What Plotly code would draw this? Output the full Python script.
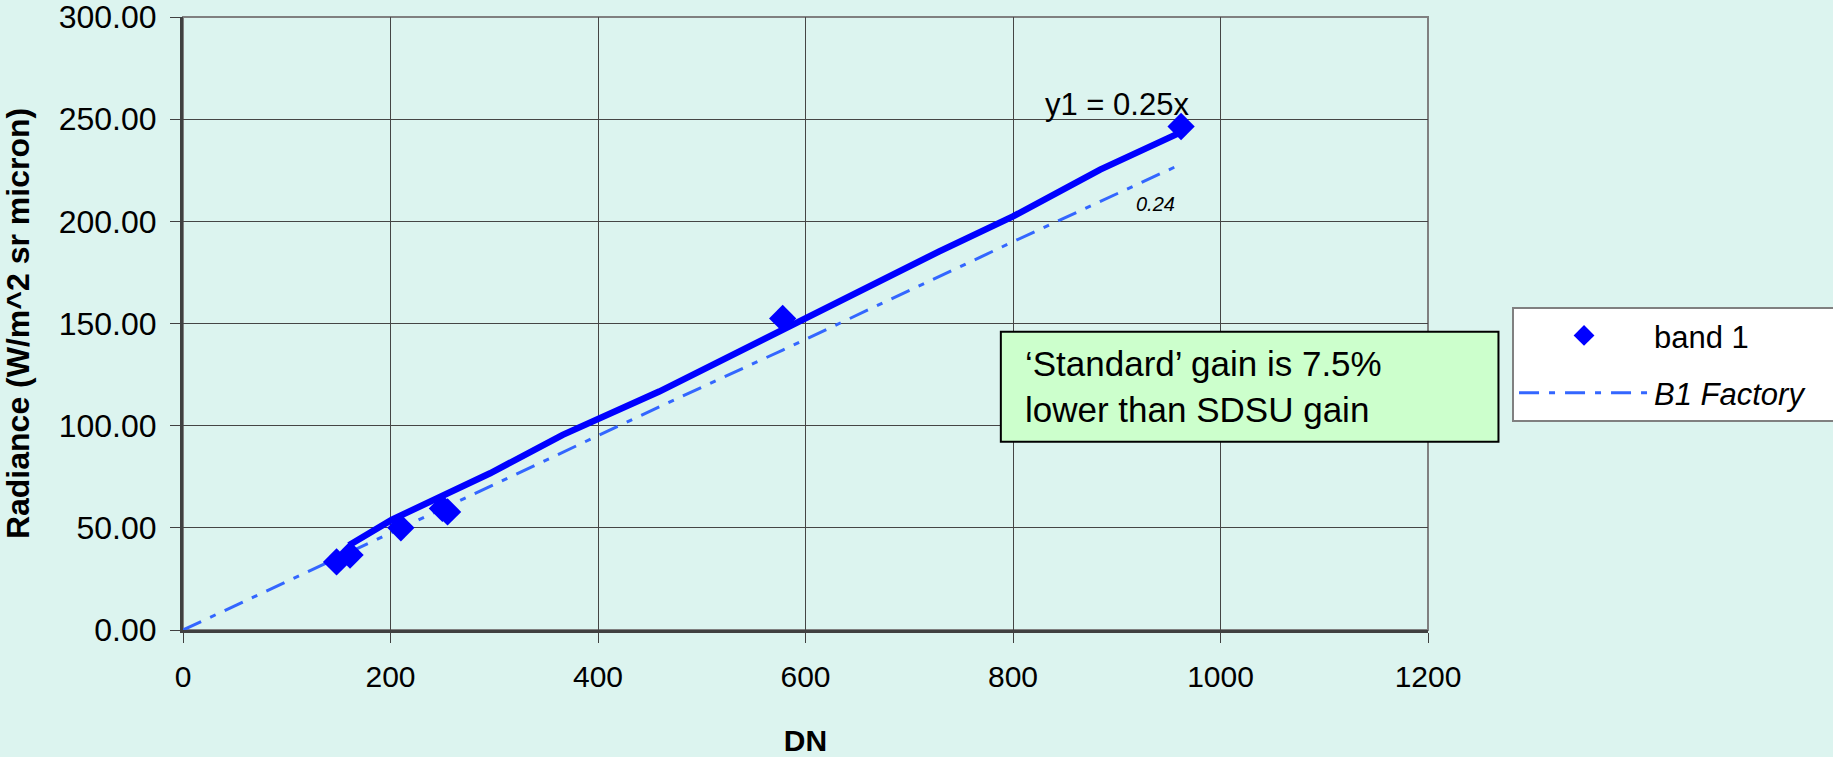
import plotly.graph_objects as go

# ---- data ----
band1_dn = [148, 161, 210, 250, 255, 578, 962]
band1_rad = [33.3, 36.7, 50.0, 59.5, 57.8, 152.5, 246.4]

fit_dn = [160, 201, 296, 366, 459, 594, 668, 729, 800, 884, 961]
fit_rad = [41.5, 53.9, 76.7, 95.5, 116.7, 151.0, 169.0, 185.3, 202.4, 225.3, 243.4]

factory_dn = [0, 150, 300, 459, 578, 800, 962]
factory_rad = [0.0, 35.5, 71.2, 109.2, 137.0, 190.0, 228.0]

x_ticks = [0, 200, 400, 600, 800, 1000, 1200]
y_ticks = [0, 50, 100, 150, 200, 250, 300]

FONT = "Liberation Sans, Arial, sans-serif"
BG = "#DCF4EF"

fig = go.Figure()

fig.add_trace(go.Scatter(
    x=factory_dn, y=factory_rad, mode="lines", name="<i>B1 Factory</i>\u00a0\u00a0\u00a0",
    line=dict(color="#3366FF", width=3, dash="20px,10px,6px,10px"),
    legendgroup="f", legendrank=2,
))
fig.add_trace(go.Scatter(
    x=fit_dn, y=fit_rad, mode="lines", name="y1 = 0.25x",
    line=dict(color="#0000FF", width=6.5), showlegend=False,
))
fig.add_trace(go.Scatter(
    x=band1_dn, y=band1_rad, mode="markers", name="band 1",
    marker=dict(symbol="diamond", size=21, color="#0000FF"),
    legendgroup="b", legendrank=1,
))

axis_common = dict(
    showgrid=True, gridcolor="#454545", gridwidth=1,
    showline=True, linecolor="#404040", linewidth=3,
    ticks="outside", ticklen=10, tickcolor="#404040", tickwidth=1,
    zeroline=False, ticklabeloverflow="allow",
)

fig.update_xaxes(
    range=[0, 1200], tickvals=x_ticks, ticklabelstandoff=8,
    tickfont=dict(family=FONT, size=30, color="black"),
    title=dict(text="<b>DN</b>", font=dict(family=FONT, size=30, color="black"), standoff=44),
    **axis_common,
)
fig.update_yaxes(
    range=[0, 300], tickvals=y_ticks, tickformat=".2f", ticklabelstandoff=7,
    tickfont=dict(family=FONT, size=32, color="black"),
    title=dict(text="<b>Radiance (W/m^2 sr micron)</b>", font=dict(family=FONT, size=32, color="black"), standoff=24),
    **axis_common,
)

# plot-area border (top/right)
fig.add_shape(type="rect", xref="paper", yref="paper", x0=0, x1=1, y0=0, y1=1,
              line=dict(color="#808080", width=2), layer="below")

# text box
fig.add_shape(type="rect", xref="paper", yref="paper",
              x0=0.6569, x1=1.0566, y0=0.307, y1=0.4865,
              line=dict(color="black", width=2), fillcolor="#CCFFCC", layer="above")
fig.add_annotation(xref="paper", yref="paper", x=0.6746, y=0.3976,
                   xanchor="left", yanchor="middle", align="left", showarrow=False,
                   text="‘Standard’ gain is 7.5%<br>lower than SDSU gain",
                   font=dict(family=FONT, size=35, color="black"))

# equation labels
fig.add_annotation(x=900, y=257, text="y1 = 0.25x", showarrow=False,
                   font=dict(family=FONT, size=31, color="black"))
fig.add_annotation(x=937, y=208.6, text="<i>0.24</i>", showarrow=False,
                   font=dict(family=FONT, size=20, color="black"))

fig.update_layout(
    width=1833, height=757,
    margin=dict(l=183, r=405, t=17, b=127, autoexpand=False),
    paper_bgcolor=BG, plot_bgcolor=BG,
    font=dict(family=FONT, color="black"),
    showlegend=True,
    legend=dict(
        x=1.0675, y=0.5273, xanchor="left", yanchor="top",
        bgcolor="white", bordercolor="#808080", borderwidth=2,
        font=dict(family=FONT, size=31, color="black"),
        traceorder="grouped", tracegroupgap=14, itemwidth=130,
    ),
)

fig.write_html(
    "out.html",
    config={"displayModeBar": False},
    post_script="document.body.style.margin='0';document.body.style.overflow='hidden';",
)
